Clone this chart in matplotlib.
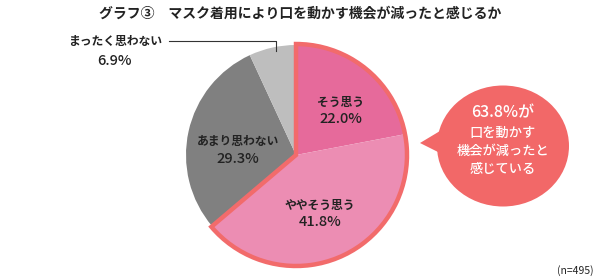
import matplotlib
matplotlib.use("Agg")
import matplotlib.pyplot as plt
from matplotlib.patches import Wedge, Ellipse, Polygon

plt.rcParams['font.family'] = ['Noto Sans CJK JP', 'DejaVu Sans']

title = "グラフ③　マスク着用により口を動かす機会が減ったと感じるか"
categories = ["そう思う", "ややそう思う", "あまり思わない", "まったく思わない"]
values = [22.0, 41.8, 29.3, 6.9]
colors = ["#E66A9B", "#EC8DB3", "#808080", "#BEBEBE"]
outline_color = "#F26B6B"
bubble_color = "#F26868"
bubble_lines = ["63.8%が", "口を動かす", "機会が減ったと", "感じている"]
note = "(n=495)"

W, H = 600, 278
fig = plt.figure(figsize=(W / 100, H / 100), dpi=100)
ax = fig.add_axes([0, 0, 1, 1])

def Y(ypx):
    return H - ypx

cx, cy, r = 296, Y(155), 110
ax.pie(values, colors=colors, startangle=90, counterclock=False,
       center=(cx, cy), radius=r, frame=True,
       wedgeprops=dict(linewidth=0))
ax.set_xlim(0, W)
ax.set_ylim(0, H)
ax.axis("off")

# outline around the agree wedges
agree = (values[0] + values[1]) / 100 * 360
ax.add_patch(Wedge((cx, cy), r + 1, 90 - agree, 90, facecolor="none",
                   edgecolor=outline_color, linewidth=3.2, joinstyle="miter", zorder=5))

# in-slice labels
lab_pos = [(341, 102, 119), (320, 205, 222), (238, 142, 159)]
for i, (x, y1, y2) in enumerate(lab_pos):
    ax.text(x, Y(y1), categories[i], ha="center", va="center", fontsize=8.5,
            fontweight="bold", color="#222222", zorder=6)
    ax.text(x, Y(y2), f"{values[i]:.1f}%", ha="center", va="center", fontsize=10.5,
            fontweight="medium", color="#222222", zorder=6)

# outside label with leader line
ax.text(115, Y(42), categories[3], ha="center", va="center", fontsize=8.5,
        fontweight="bold", color="#222222")
ax.text(115, Y(61), f"{values[3]:.1f}%", ha="center", va="center", fontsize=10.5,
        fontweight="medium", color="#222222")
ax.plot([169, 276, 276], [Y(41), Y(41), Y(51)], color="#333333", linewidth=0.8)

# speech bubble
ax.add_patch(Ellipse((503, Y(146)), 132, 121, facecolor=bubble_color,
                     edgecolor="none", zorder=4))
ax.add_patch(Polygon([(420, Y(143)), (445, Y(128)), (450, Y(158))], closed=True,
                     facecolor=bubble_color, edgecolor="none", zorder=4))
sizes = [11.5, 9.5, 9.5, 9.5]
ys = [113, 133, 151, 169]
for t, s, y in zip(bubble_lines, sizes, ys):
    ax.text(503, Y(y), t, ha="center", va="center", fontsize=s,
            color="white", fontweight="medium", zorder=6)

ax.text(300, Y(14), title, ha="center", va="center", fontsize=10,
        fontweight="bold", color="#222222")
ax.text(575, Y(271), note, ha="center", va="center", fontsize=7.5, color="#222222")

fig.savefig("out.png", dpi=100)
